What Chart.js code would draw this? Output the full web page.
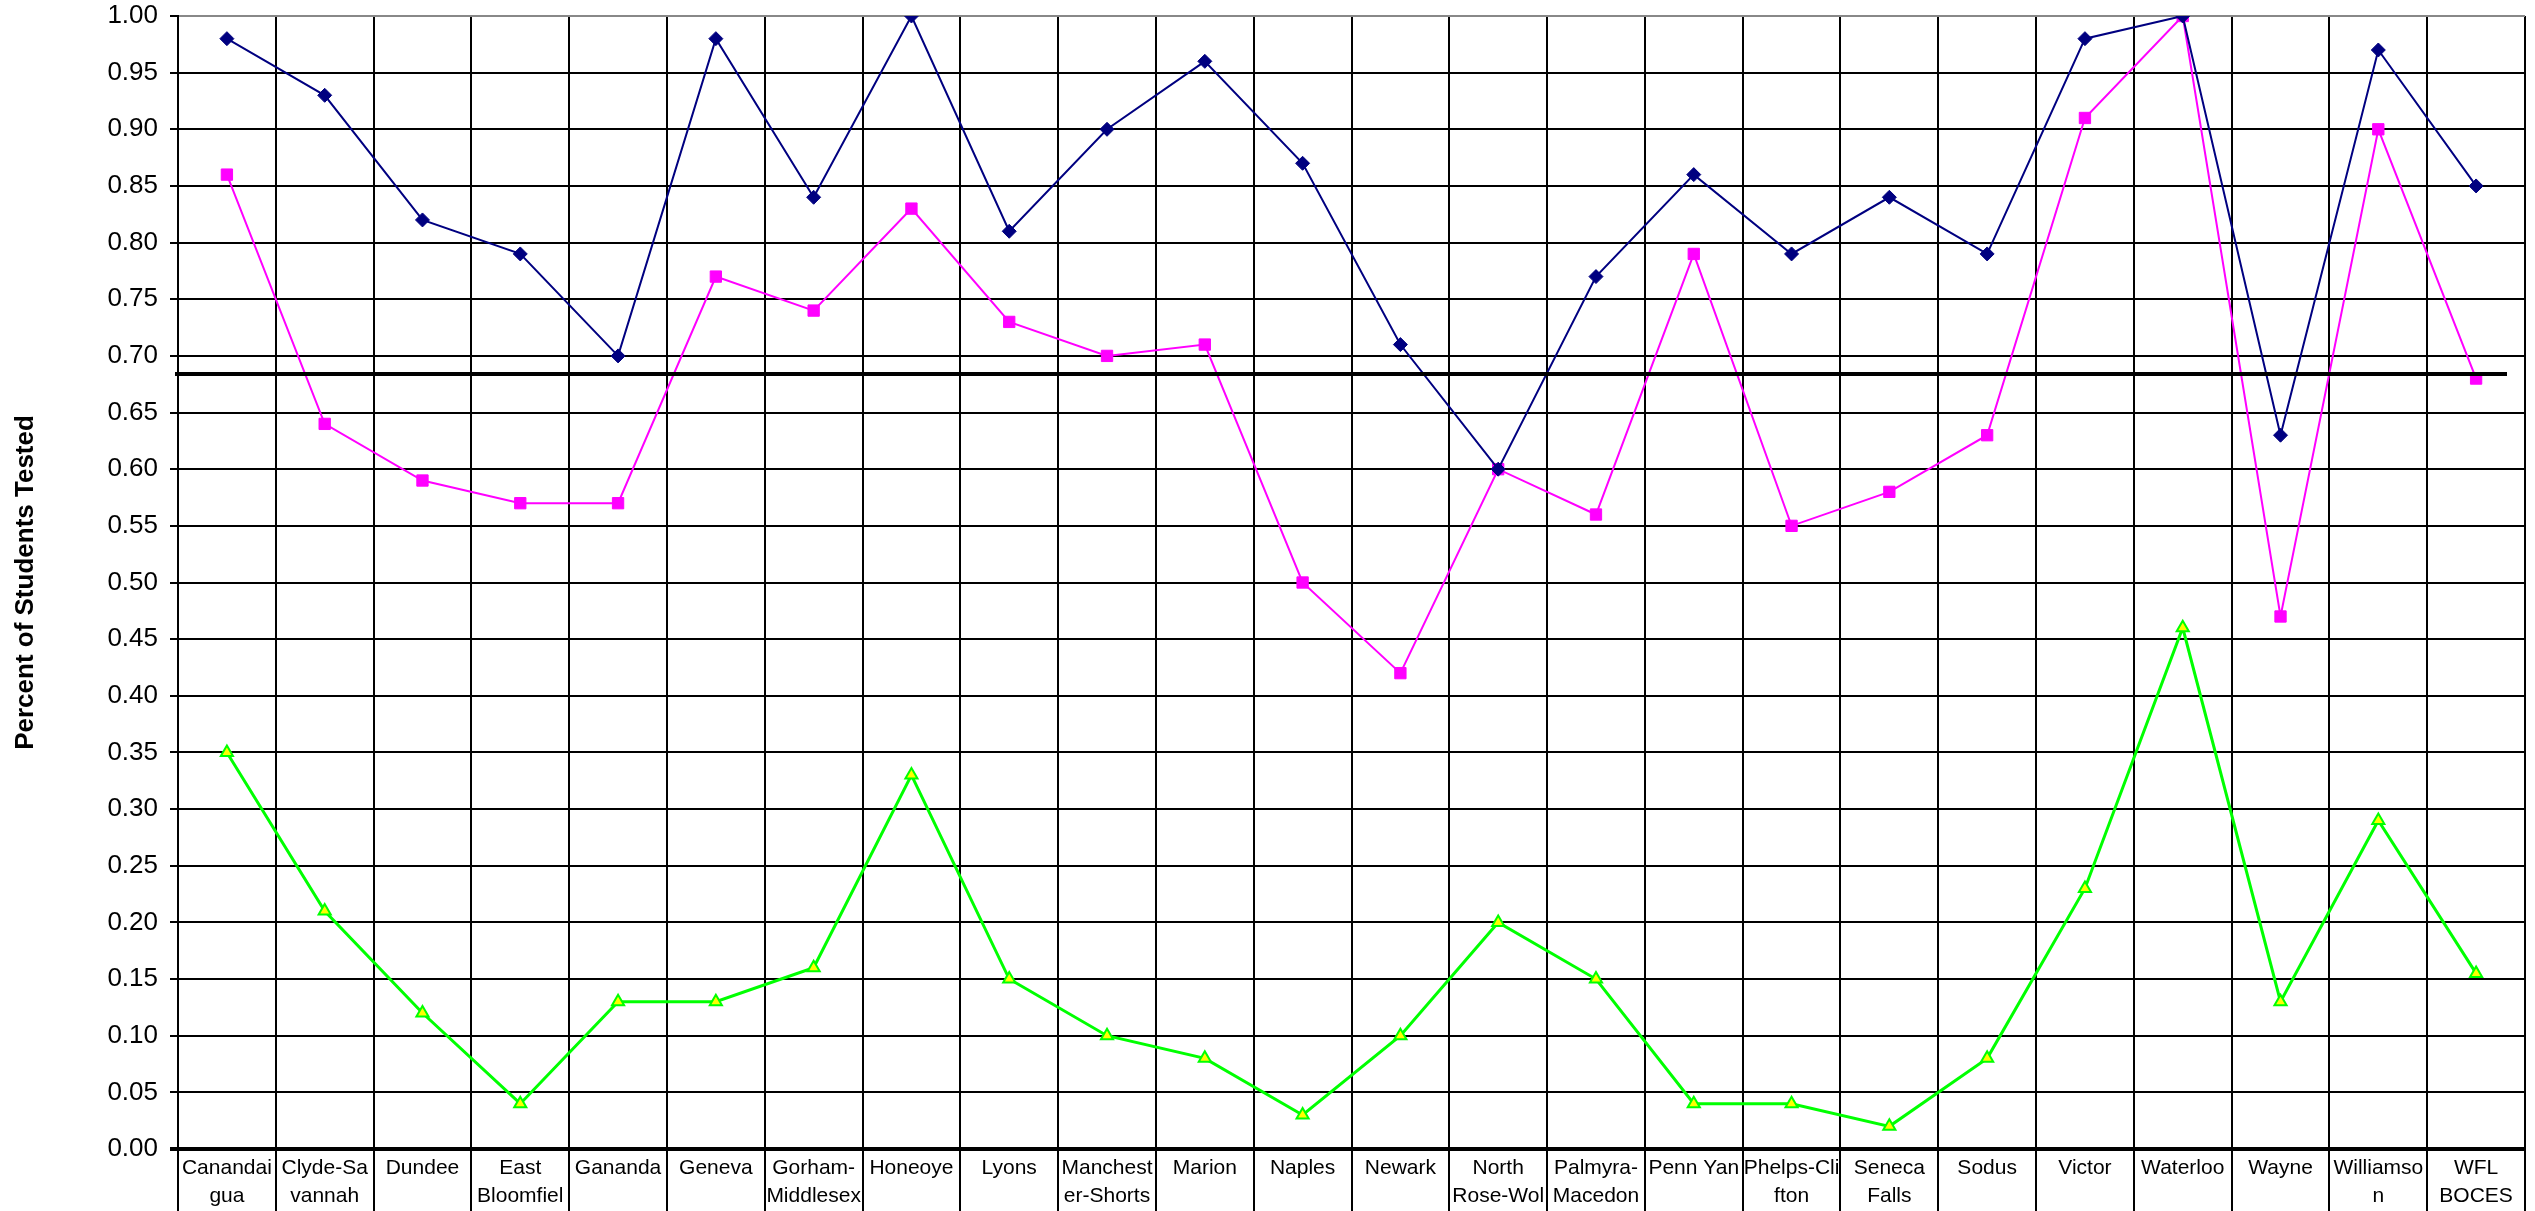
<!DOCTYPE html>
<html>
<head>
<meta charset="utf-8">
<script src="https://cdn.jsdelivr.net/npm/chart.js@4/dist/chart.umd.min.js"></script>
<style>
  html, body { margin: 0; padding: 0; background: #fff; }
  #wrap { width: 2535px; height: 1211px; position: relative; }
</style>
</head>
<body>
<div id="wrap"><canvas id="chart"></canvas></div>
<script>
var districts = [
  ['Canandai', 'gua'], ['Clyde-Sa', 'vannah'], 'Dundee', ['East', 'Bloomfiel'], 'Gananda',
  'Geneva', ['Gorham-', 'Middlesex'], 'Honeoye', 'Lyons', ['Manchest', 'er-Shorts'],
  'Marion', 'Naples', 'Newark', ['North', 'Rose-Wol'], ['Palmyra-', 'Macedon'],
  'Penn Yan', ['Phelps-Cli', 'fton'], ['Seneca', 'Falls'], 'Sodus', 'Victor',
  'Waterloo', 'Wayne', ['Williamso', 'n'], ['WFL', 'BOCES']
];
var seriesNavy = [0.98, 0.93, 0.82, 0.79, 0.70, 0.98, 0.84, 1.00, 0.81, 0.90, 0.96, 0.87,
  0.71, 0.60, 0.77, 0.86, 0.79, 0.84, 0.79, 0.98, 1.00, 0.63, 0.97, 0.85];
var seriesPink = [0.86, 0.64, 0.59, 0.57, 0.57, 0.77, 0.74, 0.83, 0.73, 0.70, 0.71, 0.50,
  0.42, 0.60, 0.56, 0.79, 0.55, 0.58, 0.63, 0.91, 1.00, 0.47, 0.90, 0.68];
var seriesGreen = [0.35, 0.21, 0.12, 0.04, 0.13, 0.13, 0.16, 0.33, 0.15, 0.10, 0.08, 0.03,
  0.10, 0.20, 0.15, 0.04, 0.04, 0.02, 0.08, 0.23, 0.46, 0.13, 0.29, 0.155];
var targetLine = 0.684;

// thick black reference line across the plot
var targetPlugin = {
  id: 'targetLine',
  afterDatasetsDraw: function(chart) {
    var ctx = chart.ctx;
    var area = chart.chartArea;
    var y = chart.scales.y.getPixelForValue(targetLine);
    ctx.save();
    ctx.strokeStyle = '#000';
    ctx.lineWidth = 4;
    ctx.beginPath();
    ctx.moveTo(area.left - 3, y);
    ctx.lineTo(area.right - 18, y);
    ctx.stroke();
    ctx.restore();
  }
};

var ctx = document.getElementById('chart').getContext('2d');
var chart = new Chart(ctx, {
  type: 'line',
  data: {
    labels: districts,
    datasets: [
      {
        data: seriesNavy,
        borderColor: '#000080',
        backgroundColor: '#000080',
        borderWidth: 2,
        pointStyle: 'rectRot',
        pointRadius: 7,
        pointBorderWidth: 1
      },
      {
        data: seriesPink,
        borderColor: '#FF00FF',
        backgroundColor: '#FF00FF',
        borderWidth: 2,
        pointStyle: 'rect',
        pointRadius: 8,
        pointBorderWidth: 1
      },
      {
        data: seriesGreen,
        borderColor: '#00FF00',
        backgroundColor: '#FFFF00',
        borderWidth: 3,
        pointStyle: 'triangle',
        pointRadius: 7,
        pointBorderWidth: 2
      }
    ]
  },
  options: {
    responsive: true,
    maintainAspectRatio: false,
    animation: false,
    layout: { padding: { top: 16, right: 10, left: 10, bottom: 0 } },
    plugins: { legend: { display: false }, tooltip: { enabled: false } },
    elements: { line: { tension: 0 } },
    scales: {
      x: {
        offset: true,
        grid: {
          offset: true,
          color: function(c) { return c.index === districts.length ? '#888' : '#000'; },
          lineWidth: 2,
          tickLength: 62,
          tickColor: '#000',
          tickWidth: 2
        },
        border: { display: false },
        ticks: {
          color: '#000',
          padding: -56,
          maxRotation: 0,
          minRotation: 0,
          autoSkip: false,
          font: { family: '"Liberation Sans Narrow", "Arial Narrow", "Liberation Sans", sans-serif', size: 21, lineHeight: 1.3 }
        },
        afterFit: function(scale) { scale.height = 62; }
      },
      y: {
        min: 0,
        max: 1,
        grid: {
          color: function(c) { return c.tick.value >= 1 ? '#888' : '#000'; },
          lineWidth: function(c) { return c.tick.value === 0 ? 4 : 2; },
          tickLength: 8,
          tickColor: '#000'
        },
        border: { color: '#000', width: 2 },
        ticks: {
          stepSize: 0.05,
          color: '#000',
          padding: 12,
          font: { family: '"Liberation Sans", Arial, sans-serif', size: 26 },
          callback: function(v) { return v.toFixed(2); }
        },
        title: {
          display: true,
          text: 'Percent of Students Tested',
          color: '#000',
          font: { family: '"Liberation Sans", Arial, sans-serif', size: 26, weight: 'bold' },
          padding: { top: 0, bottom: 0 }
        },
        afterFit: function(scale) {
          scale.width = 168;
          scale.paddingTop = 0;
          scale.paddingBottom = 0;
        }
      }
    }
  },
  plugins: [targetPlugin]
});
</script>
</body>
</html>
